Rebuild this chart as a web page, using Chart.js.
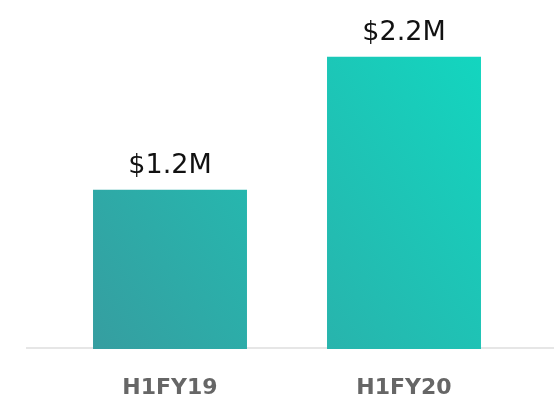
<!DOCTYPE html>
<html>
<head>
<meta charset="utf-8">
<script src="https://cdn.jsdelivr.net/npm/chart.js@4/dist/chart.umd.min.js"></script>
<style>
    html, body { margin: 0; padding: 0; background: #ffffff; }
    #wrap { width: 554px; height: 403px; position: relative; }
</style>
</head>
<body>
<div id="wrap"><canvas id="revenue-chart"></canvas></div>
<script>
const categories = ['H1FY19', 'H1FY20'];
const revenue = [1.2, 2.2]; // $M

const ctx = document.getElementById('revenue-chart').getContext('2d');

function barGradient(context) {
    const area = context.chart.chartArea;
    if (!area) return '#2bb8ae';
    const g = context.chart.ctx.createLinearGradient(area.left, area.bottom, area.right, area.top);
    g.addColorStop(0, '#389a9e');
    g.addColorStop(1, '#0fdcc3');
    return g;
}

// light baseline under the bars, runs past the plot on the left
const baseline = {
    id: 'baseline',
    beforeDatasetsDraw(chart) {
        const y = chart.scales.y.getPixelForValue(0);
        const c = chart.ctx;
        c.save();
        c.strokeStyle = '#e6e6e6';
        c.lineWidth = 2;
        c.beginPath();
        c.moveTo(26, y - 1);
        c.lineTo(chart.width, y - 1);
        c.stroke();
        c.restore();
    }
};

// "$x.xM" above each bar
const valueLabels = {
    id: 'valueLabels',
    afterDatasetsDraw(chart) {
        const c = chart.ctx;
        const meta = chart.getDatasetMeta(0);
        c.save();
        c.font = '27px "DejaVu Sans"';
        c.fillStyle = '#111111';
        c.textAlign = 'center';
        c.textBaseline = 'alphabetic';
        meta.data.forEach((bar, i) => {
            c.fillText('$' + revenue[i].toFixed(1) + 'M', bar.x, bar.y - 17);
        });
        c.restore();
    }
};

new Chart(ctx, {
    type: 'bar',
    data: {
        labels: categories,
        datasets: [{
            label: 'Revenue',
            data: revenue,
            backgroundColor: barGradient,
            borderWidth: 0,
            categoryPercentage: 1,
            barPercentage: 0.658
        }]
    },
    options: {
        responsive: true,
        maintainAspectRatio: false,
        animation: false,
        layout: { padding: { left: 53, right: 33, top: 17, bottom: 0 } },
        plugins: {
            legend: { display: false },
            tooltip: { enabled: false }
        },
        scales: {
            x: {
                grid: { display: false, drawTicks: false },
                border: { display: false },
                afterFit(scale) { scale.height = 54; },
                ticks: {
                    color: '#666666',
                    padding: 26,
                    font: { family: '"DejaVu Sans"', size: 22, weight: 'bold' }
                }
            },
            y: {
                display: false,
                min: 0,
                max: 2.5
            }
        }
    },
    plugins: [baseline, valueLabels]
});
</script>
</body>
</html>
